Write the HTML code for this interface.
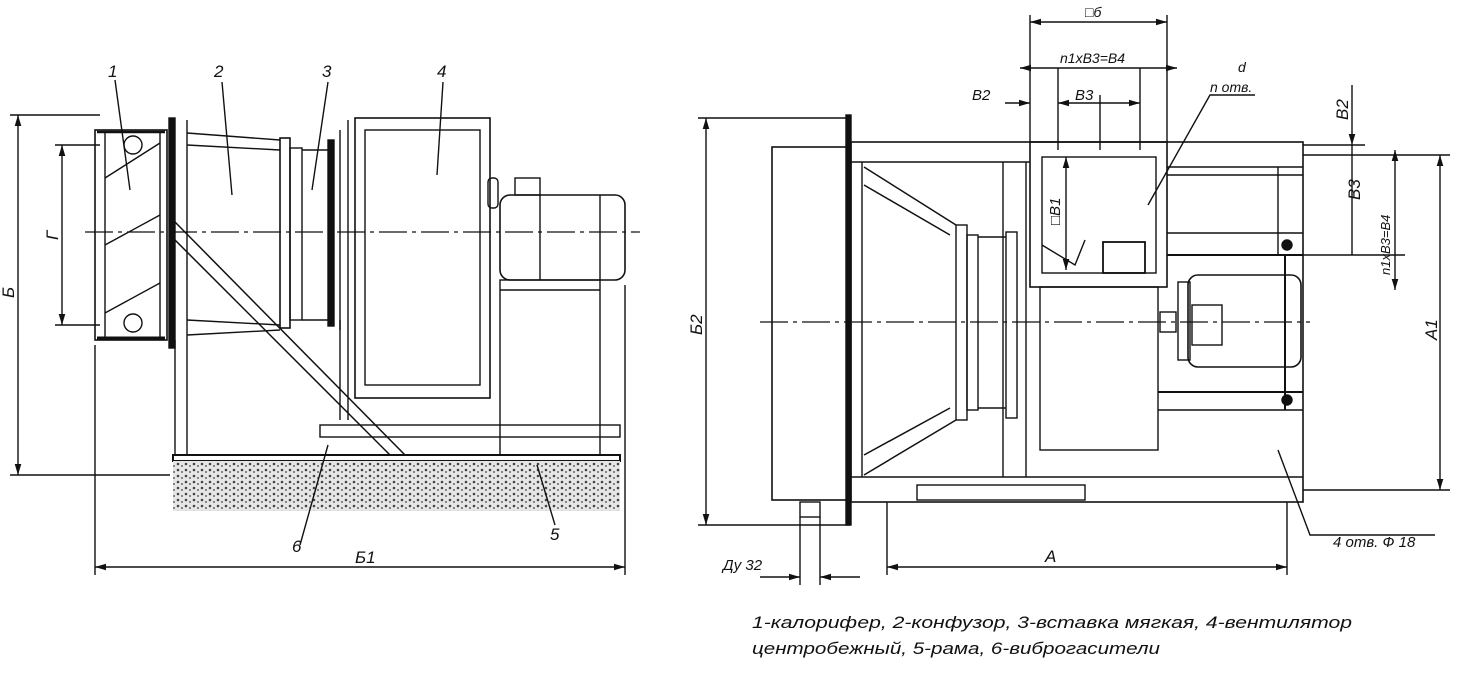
<!DOCTYPE html>
<html><head><meta charset="utf-8"><style>
html,body{margin:0;padding:0;background:#fff;}
svg{display:block}
text{font-family:"Liberation Sans","DejaVu Sans",sans-serif;font-style:italic;fill:#111}
</style></head><body>
<svg width="1468" height="680" viewBox="0 0 1468 680" xmlns="http://www.w3.org/2000/svg">
<defs>
<marker id="a" viewBox="0 0 10 10" refX="10" refY="5" markerWidth="8" markerHeight="8" orient="auto-start-reverse"><path d="M0,2 L10,5 L0,8z" fill="#111"/></marker>
<pattern id="h" width="8" height="6" patternUnits="userSpaceOnUse"><rect width="8" height="6" fill="#e6e6e6"/><circle cx="2" cy="2" r="1.3" fill="#444"/><circle cx="6" cy="4" r="1" fill="#666"/></pattern>
</defs>
<g stroke="#111" fill="none" stroke-width="1.4">
<!-- LEFT VIEW -->
<line x1="18" y1="115" x2="18" y2="475" marker-start="url(#a)" marker-end="url(#a)"/>
<line x1="10" y1="115" x2="100" y2="115"/><line x1="10" y1="475" x2="170" y2="475"/>
<line x1="62" y1="145" x2="62" y2="325" marker-start="url(#a)" marker-end="url(#a)"/>
<line x1="55" y1="145" x2="100" y2="145"/><line x1="55" y1="325" x2="100" y2="325"/>
<line x1="85" y1="232" x2="640" y2="232" stroke-dasharray="28,5,4,5" stroke-width="1.2"/>
<!-- heater -->
<rect x="95" y="130" width="72" height="210" stroke-width="1.6"/>
<line x1="97" y1="132" x2="165" y2="132" stroke-width="2.5"/>
<line x1="97" y1="338" x2="165" y2="338" stroke-width="3"/>
<line x1="105" y1="132" x2="105" y2="338"/><line x1="160" y1="132" x2="160" y2="338"/>
<path d="M105,178 L160,143 M105,245 L160,215 M105,313 L160,283"/>
<circle cx="133" cy="145" r="9"/><circle cx="133" cy="323" r="9"/>
<rect x="169" y="118" width="6" height="230" fill="#111"/>
<line x1="187" y1="120" x2="187" y2="455"/>
<!-- confuser -->
<path d="M187,133 L280,140 M187,145 L280,150 M187,320 L280,325 M187,335 L280,330" stroke-width="1.4"/>
<rect x="280" y="138" width="10" height="190" stroke-width="1.6"/>
<rect x="290" y="148" width="12" height="172"/>
<line x1="302" y1="150" x2="328" y2="150"/><line x1="302" y1="320" x2="328" y2="320"/>
<rect x="328" y="140" width="6" height="186" fill="#111"/>
<line x1="340" y1="130" x2="340" y2="330"/><line x1="348" y1="120" x2="348" y2="420"/>
<!-- fan -->
<rect x="355" y="118" width="135" height="280" stroke-width="1.6"/>
<rect x="365" y="130" width="115" height="255"/>
<rect x="488" y="178" width="10" height="30" rx="4"/>
<!-- motor -->
<rect x="500" y="195" width="125" height="85" rx="10" stroke-width="1.6"/>
<line x1="540" y1="195" x2="540" y2="280"/><line x1="600" y1="195" x2="600" y2="280"/>
<rect x="515" y="178" width="25" height="17"/>
<rect x="500" y="280" width="100" height="175"/>
<line x1="500" y1="290" x2="600" y2="290"/>
<!-- frame -->
<line x1="175" y1="340" x2="175" y2="455"/>
<path d="M175,222 L405,455 M175,240 L390,455" stroke-width="1.5"/>
<line x1="340" y1="320" x2="340" y2="420"/>
<rect x="320" y="425" width="300" height="12"/>
<rect x="173" y="455" width="447" height="6" stroke-width="2"/>
<rect x="173" y="461" width="447" height="50" fill="url(#h)" stroke="none"/>
<line x1="95" y1="345" x2="95" y2="575"/><line x1="625" y1="285" x2="625" y2="575"/>
<line x1="95" y1="567" x2="625" y2="567" marker-start="url(#a)" marker-end="url(#a)"/>
<!-- leaders -->
<path d="M115,80 L130,190 M222,82 L232,195 M328,82 L312,190 M443,82 L437,175 M555,525 L537,465 M300,545 L328,445"/>
<!-- RIGHT VIEW -->
<line x1="706" y1="118" x2="706" y2="525" marker-start="url(#a)" marker-end="url(#a)"/>
<line x1="698" y1="118" x2="850" y2="118"/><line x1="698" y1="525" x2="850" y2="525"/>
<rect x="772" y="147" width="76" height="353" stroke-width="1.6"/>
<rect x="846" y="115" width="5" height="410" fill="#111"/>
<rect x="851" y="142" width="452" height="360" stroke-width="1.6"/>
<line x1="851" y1="162" x2="1030" y2="162"/>
<line x1="862" y1="162" x2="862" y2="477"/>
<line x1="851" y1="477" x2="1303" y2="477"/>
<line x1="760" y1="322" x2="1310" y2="322" stroke-dasharray="28,5,4,5" stroke-width="1.2"/>
<path d="M864,167 L956,225 M864,185 L950,235 M864,475 L956,420 M864,455 L950,408" stroke-width="1.5"/>
<rect x="956" y="225" width="11" height="195"/>
<rect x="967" y="235" width="11" height="175"/>
<line x1="978" y1="237" x2="1006" y2="237"/><line x1="978" y1="408" x2="1006" y2="408"/>
<rect x="1006" y="232" width="11" height="186"/>
<line x1="1003" y1="162" x2="1003" y2="477"/><line x1="1026" y1="162" x2="1026" y2="477"/>
<rect x="1030" y="142" width="137" height="145" stroke-width="1.6"/>
<rect x="1042" y="157" width="114" height="116"/>
<path d="M1042,245 L1075,265 L1085,240"/>
<rect x="1103" y="242" width="42" height="31" stroke-width="1.8"/>
<rect x="1040" y="287" width="118" height="163"/>
<rect x="1188" y="275" width="113" height="92" rx="10" stroke-width="1.6"/>
<rect x="1178" y="282" width="12" height="78"/>
<rect x="1192" y="305" width="30" height="40"/>
<rect x="1160" y="312" width="16" height="20"/>
<line x1="1167" y1="167" x2="1303" y2="167"/>
<line x1="1167" y1="175" x2="1303" y2="175"/>
<line x1="1167" y1="233" x2="1303" y2="233"/>
<line x1="1167" y1="255" x2="1303" y2="255" stroke-width="2"/>
<line x1="1158" y1="392" x2="1303" y2="392" stroke-width="2"/>
<line x1="1158" y1="410" x2="1303" y2="410"/>
<line x1="1278" y1="167" x2="1278" y2="255"/>
<line x1="1285" y1="255" x2="1285" y2="410" stroke-width="2"/>
<circle cx="1287" cy="245" r="5" fill="#111"/><circle cx="1287" cy="400" r="5" fill="#111"/>
<rect x="917" y="485" width="168" height="15"/>
<rect x="800" y="502" width="20" height="15"/>
<line x1="800" y1="517" x2="800" y2="585"/><line x1="820" y1="517" x2="820" y2="585"/>
<line x1="760" y1="577" x2="800" y2="577" marker-end="url(#a)"/><line x1="860" y1="577" x2="820" y2="577" marker-end="url(#a)"/>
<line x1="887" y1="502" x2="887" y2="575"/><line x1="1287" y1="502" x2="1287" y2="575"/>
<line x1="887" y1="567" x2="1287" y2="567" marker-start="url(#a)" marker-end="url(#a)"/>
<path d="M1278,450 L1310,535 L1435,535"/>
<!-- top dims -->
<line x1="1030" y1="15" x2="1030" y2="142"/><line x1="1167" y1="15" x2="1167" y2="142"/>
<line x1="1030" y1="22" x2="1167" y2="22" marker-start="url(#a)" marker-end="url(#a)"/>
<line x1="1020" y1="68" x2="1177" y2="68" marker-start="url(#a)" marker-end="url(#a)"/>
<line x1="1058" y1="68" x2="1058" y2="150"/><line x1="1140" y1="68" x2="1140" y2="150"/>
<line x1="1100" y1="95" x2="1100" y2="150"/>
<line x1="1058" y1="103" x2="1140" y2="103" marker-start="url(#a)" marker-end="url(#a)"/>
<line x1="1005" y1="103" x2="1030" y2="103" marker-end="url(#a)"/>
<path d="M1255,95 L1210,95 L1148,205"/>
<line x1="1066" y1="157" x2="1066" y2="270" marker-start="url(#a)" marker-end="url(#a)"/>
<!-- right dims -->
<line x1="1303" y1="155" x2="1450" y2="155"/><line x1="1303" y1="490" x2="1450" y2="490"/>
<line x1="1440" y1="155" x2="1440" y2="490" marker-start="url(#a)" marker-end="url(#a)"/>
<line x1="1352" y1="85" x2="1352" y2="145" marker-end="url(#a)"/>
<line x1="1352" y1="145" x2="1352" y2="255"/>
<line x1="1303" y1="145" x2="1365" y2="145"/>
<line x1="1295" y1="255" x2="1405" y2="255"/>
<line x1="1395" y1="150" x2="1395" y2="290" marker-start="url(#a)" marker-end="url(#a)"/>
</g>
<g font-size="17">
<text x="108" y="77">1</text><text x="214" y="77">2</text><text x="322" y="77">3</text><text x="437" y="77">4</text>
<text x="550" y="540">5</text><text x="292" y="552">6</text>
<text x="355" y="563">Б1</text>
<text transform="translate(14,298) rotate(-90)">Б</text>
<text transform="translate(58,240) rotate(-90)">Г</text>
<text transform="translate(702,335) rotate(-90)">Б2</text>
<text x="1045" y="562">А</text>
<text transform="translate(1437,340) rotate(-90)">А1</text>
<text transform="translate(1348,120) rotate(-90)">В2</text>
<text transform="translate(1360,200) rotate(-90)">В3</text>
<text transform="translate(1390,275) rotate(-90)" font-size="13">n1xВ3=В4</text>
<text x="1085" y="17" font-size="14">□б</text>
<text x="1060" y="63" font-size="14">n1xВ3=В4</text>
<text x="972" y="100" font-size="15">В2</text>
<text x="1075" y="100" font-size="15">В3</text>
<text x="1238" y="72" font-size="14">d</text>
<text x="1210" y="92" font-size="14">n отв.</text>
<text transform="translate(1060,225) rotate(-90)" font-size="15">□В1</text>
<text x="723" y="570" font-size="15">Ду 32</text>
<text x="1333" y="547" font-size="15">4 отв. Ф 18</text>
<text x="752" y="628" textLength="600" lengthAdjust="spacingAndGlyphs">1-калорифер, 2-конфузор, 3-вставка мягкая, 4-вентилятор</text>
<text x="752" y="654" textLength="408" lengthAdjust="spacingAndGlyphs">центробежный, 5-рама, 6-виброгасители</text>
</g>
</svg>
</body></html>
